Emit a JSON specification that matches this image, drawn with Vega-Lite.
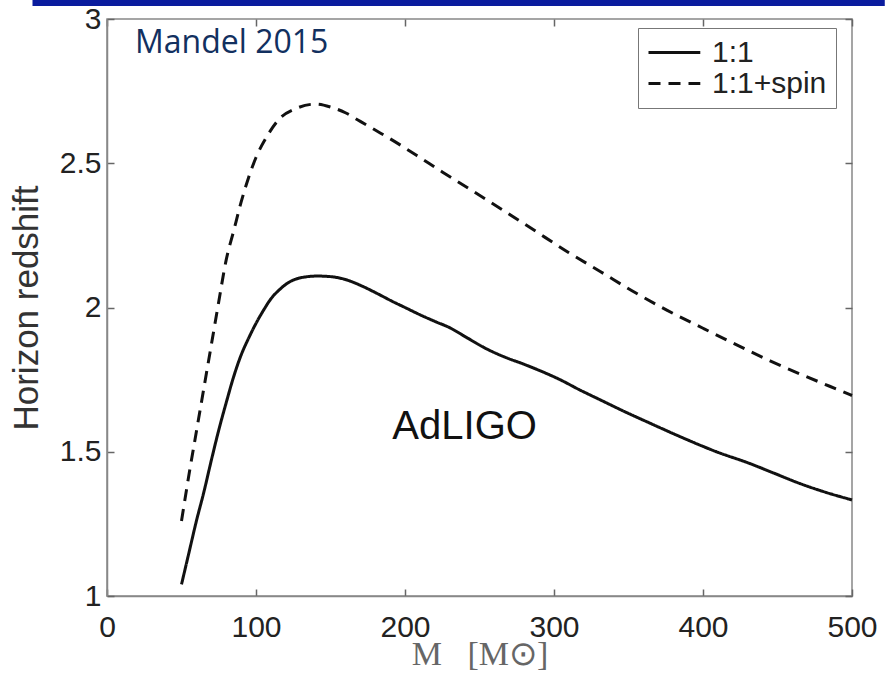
{
  "$schema": "https://vega.github.io/schema/vega-lite/v6.json",
  "width": 745,
  "height": 577,
  "autosize": {"type": "none"},
  "padding": {"left": 107, "top": 19, "right": 33, "bottom": 81},
  "background": "white",
  "config": {
    "view": {"stroke": "#888", "strokeWidth": 1.5},
    "axis": {"grid": false, "domainColor": "#888", "domainWidth": 1.5, "tickColor": "#666", "tickWidth": 1.5, "labelFont": "Liberation Sans", "labelColor": "#222", "titleColor": "#333"}
  },
  "datasets": {
    "curves": [
      {"M": 50, "z": 1.04, "series": "1:1"},
      {"M": 55, "z": 1.15, "series": "1:1"},
      {"M": 60, "z": 1.26, "series": "1:1"},
      {"M": 65, "z": 1.36, "series": "1:1"},
      {"M": 70, "z": 1.47, "series": "1:1"},
      {"M": 75, "z": 1.575, "series": "1:1"},
      {"M": 80, "z": 1.67, "series": "1:1"},
      {"M": 85, "z": 1.76, "series": "1:1"},
      {"M": 90, "z": 1.835, "series": "1:1"},
      {"M": 95, "z": 1.893, "series": "1:1"},
      {"M": 100, "z": 1.945, "series": "1:1"},
      {"M": 105, "z": 1.99, "series": "1:1"},
      {"M": 110, "z": 2.03, "series": "1:1"},
      {"M": 116, "z": 2.063, "series": "1:1"},
      {"M": 122, "z": 2.087, "series": "1:1"},
      {"M": 129, "z": 2.102, "series": "1:1"},
      {"M": 141, "z": 2.109, "series": "1:1"},
      {"M": 150, "z": 2.107, "series": "1:1"},
      {"M": 160, "z": 2.097, "series": "1:1"},
      {"M": 170, "z": 2.077, "series": "1:1"},
      {"M": 180, "z": 2.052, "series": "1:1"},
      {"M": 192, "z": 2.02, "series": "1:1"},
      {"M": 200, "z": 2.0, "series": "1:1"},
      {"M": 210, "z": 1.975, "series": "1:1"},
      {"M": 220, "z": 1.952, "series": "1:1"},
      {"M": 230, "z": 1.93, "series": "1:1"},
      {"M": 242, "z": 1.894, "series": "1:1"},
      {"M": 255, "z": 1.856, "series": "1:1"},
      {"M": 267, "z": 1.828, "series": "1:1"},
      {"M": 279, "z": 1.805, "series": "1:1"},
      {"M": 291, "z": 1.78, "series": "1:1"},
      {"M": 304, "z": 1.75, "series": "1:1"},
      {"M": 317, "z": 1.715, "series": "1:1"},
      {"M": 331, "z": 1.68, "series": "1:1"},
      {"M": 347, "z": 1.64, "series": "1:1"},
      {"M": 364, "z": 1.6, "series": "1:1"},
      {"M": 387, "z": 1.547, "series": "1:1"},
      {"M": 409, "z": 1.5, "series": "1:1"},
      {"M": 431, "z": 1.46, "series": "1:1"},
      {"M": 448, "z": 1.425, "series": "1:1"},
      {"M": 465, "z": 1.39, "series": "1:1"},
      {"M": 482, "z": 1.36, "series": "1:1"},
      {"M": 500, "z": 1.333, "series": "1:1"},
      {"M": 50, "z": 1.26, "series": "1:1+spin"},
      {"M": 55, "z": 1.42, "series": "1:1+spin"},
      {"M": 60, "z": 1.57, "series": "1:1+spin"},
      {"M": 65, "z": 1.72, "series": "1:1+spin"},
      {"M": 70, "z": 1.87, "series": "1:1+spin"},
      {"M": 75, "z": 2.02, "series": "1:1+spin"},
      {"M": 80, "z": 2.165, "series": "1:1+spin"},
      {"M": 85, "z": 2.265, "series": "1:1+spin"},
      {"M": 90, "z": 2.365, "series": "1:1+spin"},
      {"M": 95, "z": 2.45, "series": "1:1+spin"},
      {"M": 100, "z": 2.52, "series": "1:1+spin"},
      {"M": 107, "z": 2.59, "series": "1:1+spin"},
      {"M": 115, "z": 2.65, "series": "1:1+spin"},
      {"M": 127, "z": 2.69, "series": "1:1+spin"},
      {"M": 140, "z": 2.705, "series": "1:1+spin"},
      {"M": 150, "z": 2.695, "series": "1:1+spin"},
      {"M": 160, "z": 2.675, "series": "1:1+spin"},
      {"M": 170, "z": 2.645, "series": "1:1+spin"},
      {"M": 180, "z": 2.615, "series": "1:1+spin"},
      {"M": 190, "z": 2.585, "series": "1:1+spin"},
      {"M": 200, "z": 2.553, "series": "1:1+spin"},
      {"M": 210, "z": 2.52, "series": "1:1+spin"},
      {"M": 225, "z": 2.47, "series": "1:1+spin"},
      {"M": 242, "z": 2.415, "series": "1:1+spin"},
      {"M": 265, "z": 2.34, "series": "1:1+spin"},
      {"M": 286, "z": 2.27, "series": "1:1+spin"},
      {"M": 310, "z": 2.19, "series": "1:1+spin"},
      {"M": 331, "z": 2.125, "series": "1:1+spin"},
      {"M": 355, "z": 2.05, "series": "1:1+spin"},
      {"M": 376, "z": 1.99, "series": "1:1+spin"},
      {"M": 400, "z": 1.928, "series": "1:1+spin"},
      {"M": 420, "z": 1.877, "series": "1:1+spin"},
      {"M": 445, "z": 1.815, "series": "1:1+spin"},
      {"M": 465, "z": 1.77, "series": "1:1+spin"},
      {"M": 485, "z": 1.727, "series": "1:1+spin"},
      {"M": 500, "z": 1.695, "series": "1:1+spin"}
    ],
    "notes": [
      {"label": "AdLIGO", "M": 240, "z": 1.586},
      {"label": "Mandel 2015", "M": 18.8, "z": 2.882}
    ]
  },
  "layer": [
    {
      "data": {"values": [{"band": "top"}]},
      "mark": {"type": "rect", "clip": false, "color": "#0a1c9e"},
      "encoding": {
        "x": {"datum": -50, "type": "quantitative", "scale": {"domain": [0, 500]}, "axis": null},
        "x2": {"datum": 522},
        "y": {"datum": 3.045, "type": "quantitative", "scale": {"domain": [1, 3]}, "axis": null},
        "y2": {"datum": 3.068}
      }
    },
    {
      "data": {"name": "curves"},
      "mark": {"type": "line", "color": "#111", "strokeWidth": 3, "interpolate": "monotone"},
      "encoding": {
        "x": {
          "field": "M", "type": "quantitative",
          "scale": {"domain": [0, 500], "nice": false, "zero": false},
          "axis": {"orient": "bottom", "values": [0, 100, 200, 300, 400, 500], "format": "~r", "labelFontSize": 30, "labelFlush": false, "tickSize": -7, "labelPadding": 23, "title": "M\u00a0\u00a0\u00a0[M⊙]", "titleFont": "Liberation Serif", "titleFontSize": 34, "titleFontWeight": "normal", "titleColor": "#666", "titlePadding": -5}
        },
        "y": {
          "field": "z", "type": "quantitative",
          "scale": {"domain": [1, 3], "nice": false, "zero": false},
          "axis": {"orient": "left", "values": [1, 1.5, 2, 2.5, 3], "format": "~r", "labelFontSize": 30, "labelFlush": false, "tickSize": -7, "labelPadding": 13, "title": "Horizon redshift", "titleFont": "Liberation Sans", "titleFontSize": 35, "titleFontWeight": "normal", "titleColor": "#333", "titlePadding": 15}
        },
        "strokeDash": {
          "field": "series", "type": "nominal",
          "scale": {"domain": ["1:1", "1:1+spin"], "range": [[1, 0], [12, 8]]},
          "legend": {"title": null, "orient": "none", "legendX": 531, "legendY": 9, "labelFont": "Liberation Sans", "labelFontSize": 30, "labelColor": "#222", "symbolType": "M-1,0H2.7", "symbolSize": 784, "symbolStrokeWidth": 3, "symbolStrokeColor": "#111", "symbolFillColor": "transparent", "labelOffset": 34, "strokeColor": "#777", "fillColor": "white", "padding": 9, "rowPadding": 0}
        },
        "detail": {"field": "series"}
      }
    },
    {
      "data": {"name": "notes"},
      "transform": [{"filter": "datum.label == 'AdLIGO'"}],
      "mark": {"type": "text", "font": "Liberation Sans", "fontSize": 40, "color": "#111", "align": "center", "baseline": "middle"},
      "encoding": {
        "x": {"field": "M", "type": "quantitative", "axis": {"orient": "top", "labels": false, "title": null, "values": [0, 100, 200, 300, 400, 500], "tickSize": -7, "domain": false}},
        "y": {"field": "z", "type": "quantitative", "axis": {"orient": "right", "labels": false, "title": null, "values": [1, 1.5, 2, 2.5, 3], "tickSize": -7, "domain": false}},
        "text": {"field": "label"}
      }
    },
    {
      "data": {"name": "notes"},
      "transform": [{"filter": "datum.label == 'Mandel 2015'"}],
      "mark": {"type": "text", "font": "Open Sans", "fontSize": 32, "color": "#12305f", "align": "left", "baseline": "alphabetic"},
      "encoding": {
        "x": {"field": "M", "type": "quantitative", "axis": null},
        "y": {"field": "z", "type": "quantitative", "axis": null},
        "text": {"field": "label"}
      }
    }
  ],
  "resolve": {"axis": {"x": "independent", "y": "independent"}}
}
